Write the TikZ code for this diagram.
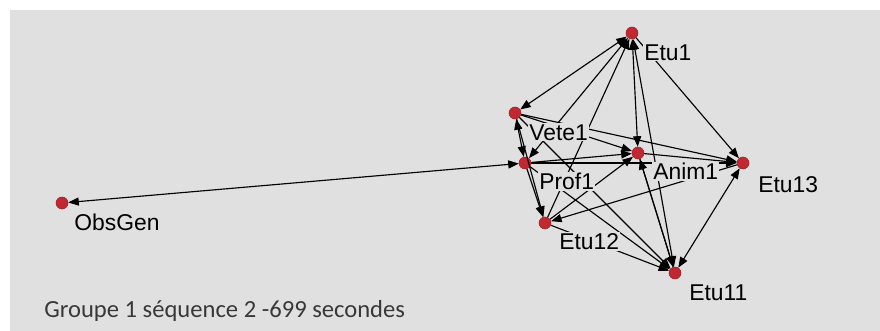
\documentclass[tikz,border=0pt]{standalone}
\usepackage{fontspec}
\setmainfont{Liberation Sans}
\newfontfamily\capfont{Carlito}
\usepackage{tikz}
\usetikzlibrary{arrows.meta}
\usetikzlibrary{positioning}

\definecolor{bggray}{HTML}{E0E0E0}
\definecolor{dotred}{HTML}{C22832}
\definecolor{capgray}{HTML}{383838}

\tikzset{
	actor/.style={circle, fill=dotred, draw=dotred!75!black, line width=0.3pt, minimum size=0.24cm, inner sep=0pt},
	lbl/.style={anchor=north west, fill=bggray, inner sep=0.6pt, font=\fontsize{13}{13}\selectfont},
	tie/.style={line width=0.65pt, -{Triangle[length=6pt,width=4.6pt]}},
	mutual/.style={line width=0.65pt, {Triangle[length=6pt,width=4.6pt]}-{Triangle[length=6pt,width=4.6pt]}}
}

\begin{document}
\begin{tikzpicture}[x=0.02cm, y=-0.02cm]

	\useasboundingbox (0,0) rectangle (880,331);
	\fill[bggray] (10,10) rectangle (880,331);

	% actors
	\node[actor] (etu1)   at (632,33)  {};
	\node[actor] (vete1)  at (515,113) {};
	\node[actor] (prof1)  at (525,163) {};
	\node[actor] (anim1)  at (638,153) {};
	\node[actor] (etu13)  at (743,163) {};
	\node[actor] (etu12)  at (545,223) {};
	\node[actor] (etu11)  at (675,273) {};
	\node[actor] (obsgen) at (62,203)  {};

	% ties
	\foreach \a/\b in {prof1/obsgen, etu1/vete1, prof1/etu1, etu1/etu11, vete1/prof1, etu1/anim1, etu11/etu13}
		\draw[mutual] (\a) -- (\b);
	\foreach \a/\b in {etu12/etu1, etu1/etu13, vete1/anim1, vete1/etu13, prof1/anim1, prof1/etu13, anim1/etu13,
		prof1/etu12, vete1/etu12, etu12/anim1, etu13/etu12, prof1/etu11, etu12/etu11, anim1/etu11, etu11/anim1, vete1/etu11}
		\draw[tie] (\a) -- (\b);

	% labels
	\node[lbl] (etu1-l)   at ([shift={(11,10)}]etu1.center)   {Etu1};
	\node[lbl] (vete1-l)  at ([shift={(13,10)}]vete1.center)  {Vete1};
	\node[lbl] (prof1-l)  at ([shift={(13,9)}]prof1.center)   {Prof1};
	\node[lbl] (anim1-l)  at ([shift={(14,9)}]anim1.center)   {Anim1};
	\node[lbl] (etu13-l)  at ([shift={(14,12)}]etu13.center)  {Etu13};
	\node[lbl] (etu12-l)  at ([shift={(13,9)}]etu12.center)   {Etu12};
	\node[lbl] (etu11-l)  at ([shift={(13,10)}]etu11.center)  {Etu11};
	\node[lbl] (obsgen-l) at ([shift={(11,10)}]obsgen.center) {ObsGen};

	\node[anchor=base west, inner sep=0pt, text=capgray, font=\capfont\fontsize{14}{14}\selectfont] (caption) at (44,317) {Groupe 1 séquence 2 -699 secondes};

\end{tikzpicture}
\end{document}
